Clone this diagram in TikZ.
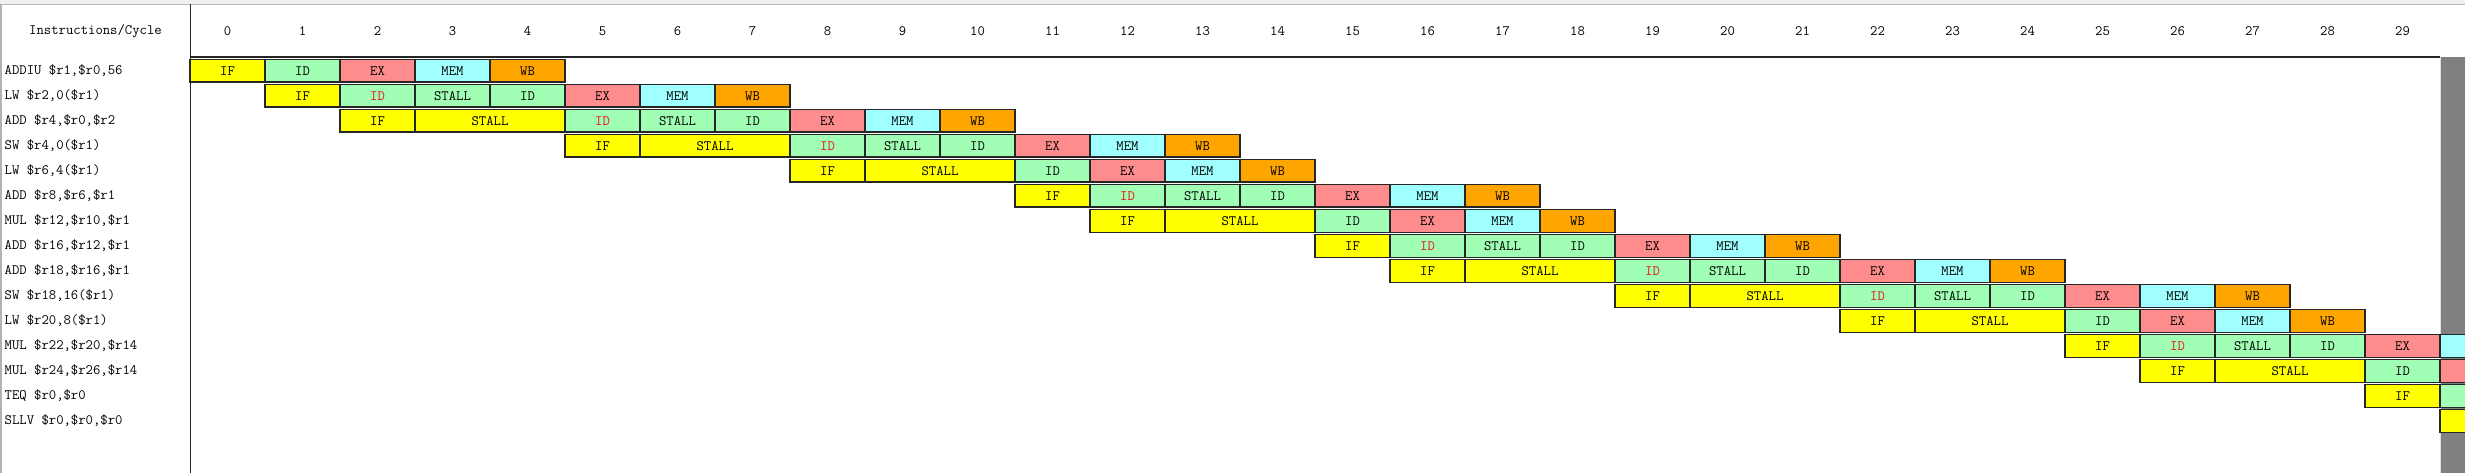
\documentclass[tikz,border=0pt]{standalone}
\usepackage{fontspec}
\definecolor{cIF}{RGB}{255,255,0}
\definecolor{cID}{RGB}{160,255,180}
\definecolor{cEX}{RGB}{255,140,140}
\definecolor{cMEM}{RGB}{160,255,255}
\definecolor{cWB}{RGB}{255,165,0}
\definecolor{cRed}{RGB}{235,20,20}
\definecolor{cBar}{RGB}{128,128,128}
\begin{document}
\begin{tikzpicture}[x=1pt,y=-1pt,
  txt/.style={font=\ttfamily\fontsize{14.3}{16}\selectfont, inner sep=0pt},
  box/.style={txt, draw=black!85, line width=1.1pt, minimum height=22.7pt, inner sep=0pt},
  stIF/.style={box, fill=cIF},
  stID/.style={box, fill=cID},
  stIDr/.style={box, fill=cID, text=cRed},
  stEX/.style={box, fill=cEX},
  stMEM/.style={box, fill=cMEM},
  stWB/.style={box, fill=cWB},
  frameline/.style={black!85, line width=1.3pt}
]
\useasboundingbox (0,0) rectangle (2465,473);
\fill[white] (0,0) rectangle (2465,473);
% window top edge and left edge
\fill[gray!12] (0,0) rectangle (2465,4);
\draw[gray!55, line width=1.5pt] (0,4.5) -- (2465,4.5);
\draw[gray!60, line width=1.5pt] (1,4.5) -- (1,473);
% gray bar on the right
\fill[cBar] (2440,57) rectangle (2465,473);
\draw[gray!25, line width=1pt] (2440,57.5) -- (2440,473);
% grid lines
\draw[frameline] (190.5,4.5) -- (190.5,473);
\draw[frameline] (190.5,57) -- (2440,57);
% header
\node[txt] (hdr) at (95.5,31) {Instructions/Cycle};
\foreach \col in {0,...,29}
  \node[txt] (c\col) at ({227.5+75*\col},31) {\col};
% instruction labels
\foreach \row/\lbl in {
  0/{ADDIU \$r1,\$r0,56},
  1/{LW \$r2,0(\$r1)},
  2/{ADD \$r4,\$r0,\$r2},
  3/{SW \$r4,0(\$r1)},
  4/{LW \$r6,4(\$r1)},
  5/{ADD \$r8,\$r6,\$r1},
  6/{MUL \$r12,\$r10,\$r1},
  7/{ADD \$r16,\$r12,\$r1},
  8/{ADD \$r18,\$r16,\$r1},
  9/{SW \$r18,16(\$r1)},
  10/{LW \$r20,8(\$r1)},
  11/{MUL \$r22,\$r20,\$r14},
  12/{MUL \$r24,\$r26,\$r14},
  13/{TEQ \$r0,\$r0},
  14/{SLLV \$r0,\$r0,\$r0}}
  \node[txt, anchor=west] (i\row) at (4.5,{70.7+25*\row}) {\lbl};
% pipeline stages
\begin{scope}
\clip (0,0) rectangle (2465,473);
\foreach \row/\col/\spn/\sty/\lbl in {
  0/0/1/stIF/IF, 0/1/1/stID/ID, 0/2/1/stEX/EX, 0/3/1/stMEM/MEM, 0/4/1/stWB/WB,
  1/1/1/stIF/IF, 1/2/1/stIDr/ID, 1/3/1/stID/STALL, 1/4/1/stID/ID, 1/5/1/stEX/EX, 1/6/1/stMEM/MEM, 1/7/1/stWB/WB,
  2/2/1/stIF/IF, 2/3/2/stIF/STALL, 2/5/1/stIDr/ID, 2/6/1/stID/STALL, 2/7/1/stID/ID, 2/8/1/stEX/EX, 2/9/1/stMEM/MEM, 2/10/1/stWB/WB,
  3/5/1/stIF/IF, 3/6/2/stIF/STALL, 3/8/1/stIDr/ID, 3/9/1/stID/STALL, 3/10/1/stID/ID, 3/11/1/stEX/EX, 3/12/1/stMEM/MEM, 3/13/1/stWB/WB,
  4/8/1/stIF/IF, 4/9/2/stIF/STALL, 4/11/1/stID/ID, 4/12/1/stEX/EX, 4/13/1/stMEM/MEM, 4/14/1/stWB/WB,
  5/11/1/stIF/IF, 5/12/1/stIDr/ID, 5/13/1/stID/STALL, 5/14/1/stID/ID, 5/15/1/stEX/EX, 5/16/1/stMEM/MEM, 5/17/1/stWB/WB,
  6/12/1/stIF/IF, 6/13/2/stIF/STALL, 6/15/1/stID/ID, 6/16/1/stEX/EX, 6/17/1/stMEM/MEM, 6/18/1/stWB/WB,
  7/15/1/stIF/IF, 7/16/1/stIDr/ID, 7/17/1/stID/STALL, 7/18/1/stID/ID, 7/19/1/stEX/EX, 7/20/1/stMEM/MEM, 7/21/1/stWB/WB,
  8/16/1/stIF/IF, 8/17/2/stIF/STALL, 8/19/1/stIDr/ID, 8/20/1/stID/STALL, 8/21/1/stID/ID, 8/22/1/stEX/EX, 8/23/1/stMEM/MEM, 8/24/1/stWB/WB,
  9/19/1/stIF/IF, 9/20/2/stIF/STALL, 9/22/1/stIDr/ID, 9/23/1/stID/STALL, 9/24/1/stID/ID, 9/25/1/stEX/EX, 9/26/1/stMEM/MEM, 9/27/1/stWB/WB,
  10/22/1/stIF/IF, 10/23/2/stIF/STALL, 10/25/1/stID/ID, 10/26/1/stEX/EX, 10/27/1/stMEM/MEM, 10/28/1/stWB/WB,
  11/25/1/stIF/IF, 11/26/1/stIDr/ID, 11/27/1/stID/STALL, 11/28/1/stID/ID, 11/29/1/stEX/EX, 11/30/1/stMEM/{},
  12/26/1/stIF/IF, 12/27/2/stIF/STALL, 12/29/1/stID/ID, 12/30/1/stEX/{},
  13/29/1/stIF/IF, 13/30/1/stID/{},
  14/30/1/stIF/{}}
  \node[\sty, minimum width=\spn*75pt] (s\row-\col) at ({190+75*(\col+\spn/2)},{70.7+25*\row}) {\lbl};
\end{scope}
\end{tikzpicture}
\end{document}
